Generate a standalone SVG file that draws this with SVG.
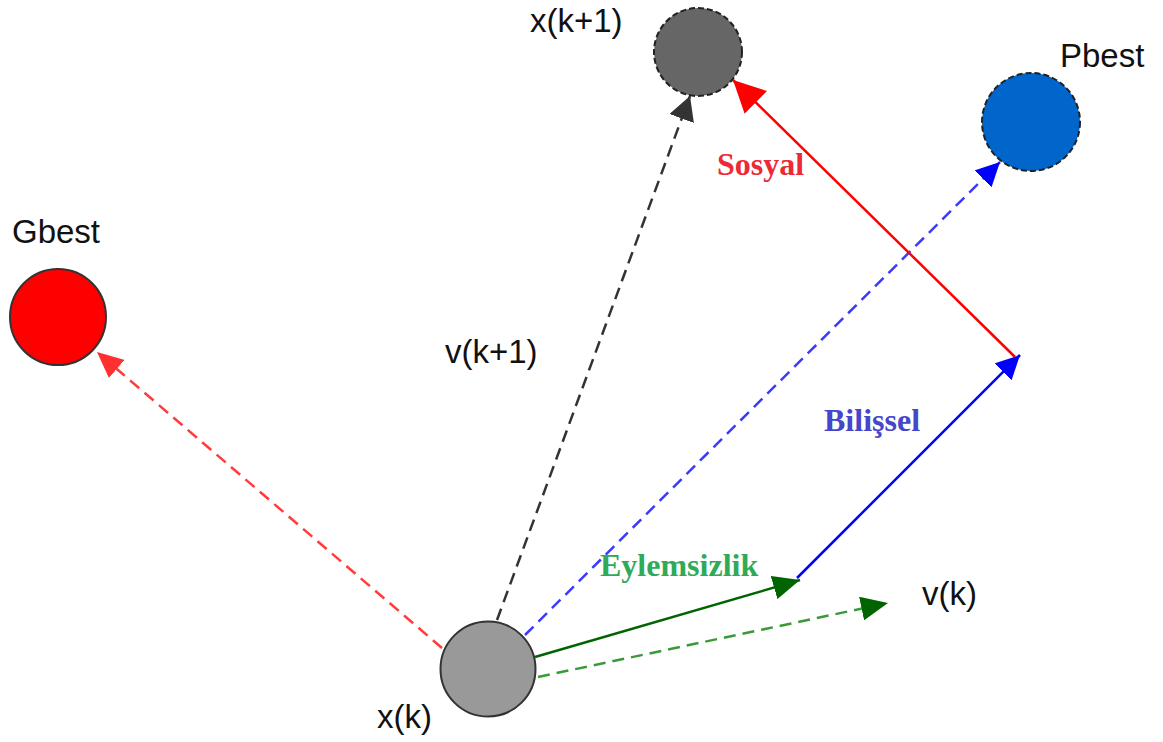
<svg xmlns="http://www.w3.org/2000/svg" width="1163" height="742" viewBox="0 0 1163 742">
<style>
.lbl{font-family:"Liberation Sans",Arial,sans-serif;font-size:33px;fill:#111}
.term{font-family:"Liberation Serif","Times New Roman",serif;font-weight:bold;font-size:32px}
.conn{fill:none;stroke-width:2.5}
.dash{stroke-dasharray:12 7}
</style>
<defs>
<marker id="aRed" markerUnits="userSpaceOnUse" markerWidth="32" markerHeight="32" viewBox="0 0 32 32" refX="32" refY="16" orient="auto"><path d="M0,0 L32,16 L0,32 z" fill="#ff0000"/></marker>
<marker id="aRedS" markerUnits="userSpaceOnUse" markerWidth="26" markerHeight="24" viewBox="0 0 26 24" refX="26" refY="12" orient="auto"><path d="M0,0 L26,12 L0,24 z" fill="#ff3030"/></marker>
<marker id="aBlk" markerUnits="userSpaceOnUse" markerWidth="24" markerHeight="26" viewBox="0 0 24 26" refX="24" refY="13" orient="auto"><path d="M0,0 L24,13 L0,26 z" fill="#333333"/></marker>
<marker id="aBlue" markerUnits="userSpaceOnUse" markerWidth="24" markerHeight="24" viewBox="0 0 24 24" refX="24" refY="12" orient="auto"><path d="M0,0 L24,12 L0,24 z" fill="#0000ff"/></marker>
<marker id="aGrn" markerUnits="userSpaceOnUse" markerWidth="27" markerHeight="24" viewBox="0 0 27 24" refX="27" refY="12" orient="auto"><path d="M0,0 L27,12 L0,24 z" fill="#006400"/></marker>
</defs>
<g id="connectors">
<line class="conn dash" x1="442" y1="648" x2="97" y2="352" stroke="#ff3b3b" marker-end="url(#aRedS)"/>
<line class="conn dash" x1="497" y1="620" x2="690" y2="96" stroke="#333333" marker-end="url(#aBlk)"/>
<line class="conn dash" x1="525" y1="635" x2="1000" y2="162" stroke="#3b3bff" marker-end="url(#aBlue)"/>
<line class="conn" x1="1015" y1="357" x2="733" y2="80" stroke="#ff0000" marker-end="url(#aRed)"/>
<line class="conn" x1="797" y1="578" x2="1020" y2="355" stroke="#0000ff" marker-end="url(#aBlue)"/>
<line class="conn" x1="535" y1="657" x2="800" y2="580" stroke="#006400" marker-end="url(#aGrn)"/>
<line class="conn dash" x1="538" y1="677" x2="888" y2="603" stroke="#3a9a3a" marker-end="url(#aGrn)"/>
</g>
<g id="node-xk">
<circle cx="488" cy="669" r="47.5" fill="#999999" stroke="#333333" stroke-width="2"/>
<text class="lbl" x="377" y="728">x(k)</text>
</g>
<g id="node-gbest">
<circle cx="58" cy="317" r="48" fill="#ff0000" stroke="#333333" stroke-width="2"/>
<text class="lbl" x="12" y="243">Gbest</text>
</g>
<g id="node-xk1">
<circle cx="698" cy="52" r="44" fill="#666666" stroke="#222222" stroke-width="2" stroke-dasharray="6 3"/>
<text class="lbl" x="530" y="32">x(k+1)</text>
</g>
<g id="node-pbest">
<circle cx="1031" cy="122" r="49" fill="#0066cc" stroke="#222222" stroke-width="2" stroke-dasharray="6 3"/>
<text class="lbl" x="1060" y="67" font-size="32">Pbest</text>
</g>
<g id="labels">
<text class="lbl" x="445" y="363">v(k+1)</text>
<text class="lbl" x="922" y="605">v(k)</text>
<text class="term" x="717" y="175" fill="#ec2a36">Sosyal</text>
<text class="term" x="824" y="431" fill="#4646cc">Bilişsel</text>
<text class="term" x="600" y="576" fill="#2faa58">Eylemsizlik</text>
</g>
</svg>
